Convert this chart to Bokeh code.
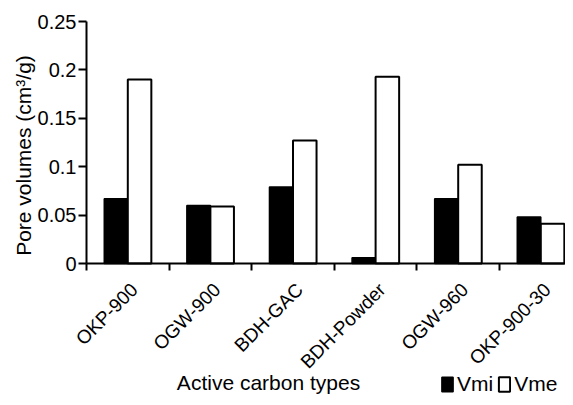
import math
from bokeh.plotting import figure
from bokeh.models import (Range1d, FixedTicker, Legend, LegendItem, Label)
from bokeh.embed import file_html
from bokeh.resources import INLINE

categories = ["OKP-900", "OGW-900", "BDH-GAC", "BDH-Powder", "OGW-960", "OKP-900-30"]
vmi = [0.067, 0.060, 0.079, 0.006, 0.067, 0.048]
vme = [0.190, 0.059, 0.127, 0.193, 0.102, 0.041]
y_ticks = [0, 0.05, 0.1, 0.15, 0.2, 0.25]
y_tick_labels = ["0", "0.05", "0.1", "0.15", "0.2", "0.25"]
series_names = ["Vmi", "Vme"]

FONT = "Liberation Sans"
W, H = 565, 397
n = len(categories)
bar_w = 0.285
label_shift = 0.58

# pixel geometry of the plotting area (whole canvas is the frame)
x0_px, cat_px = 86, 82.6          # x of category boundary 0, px per category
y0_px, ytop_px = 263, 21          # y of value 0 and of value 0.25
k = 0.25 / (y0_px - ytop_px)      # data units per px (y)

x_range = Range1d(-x0_px / cat_px, (W - x0_px) / cat_px)
y_range = Range1d(-(H - y0_px) * k, 0.25 + ytop_px * k)

p = figure(width=W, height=H, output_backend="svg", toolbar_location=None,
           x_range=x_range, y_range=y_range,
           min_border_left=0, min_border_right=0, min_border_top=0, min_border_bottom=0)
p.title.visible = False
p.outline_line_color = None
p.grid.visible = False
p.background_fill_color = "white"
p.border_fill_color = "white"

xs_mi = [i + 0.5 - bar_w / 2 for i in range(n)]
xs_me = [i + 0.5 + bar_w / 2 for i in range(n)]
r1 = p.vbar(x=xs_mi, top=vmi, width=bar_w, fill_color="black", line_color="black", line_width=1.5)
r2 = p.vbar(x=xs_me, top=vme, width=bar_w, fill_color="white", line_color="black", line_width=2)

# x axis
label_pos = [i + label_shift for i in range(n)]
xa = p.xaxis[0]
xa.fixed_location = 0
xa.bounds = (0, x_range.end)
xa.ticker = FixedTicker(ticks=label_pos, minor_ticks=list(range(n + 1)))
xa.major_label_overrides = {pos: name for pos, name in zip(label_pos, categories)}
xa.major_label_orientation = math.pi / 4
xa.major_tick_out = 0
xa.major_tick_in = 0
xa.minor_tick_out = 7
xa.minor_tick_in = 0
xa.minor_tick_line_width = 2
xa.minor_tick_line_color = "black"
xa.axis_line_width = 2
xa.axis_line_color = "black"
xa.major_label_standoff = 16
xa.major_label_text_font = FONT
xa.major_label_text_font_size = "19px"
xa.major_label_text_color = "black"

# y axis
ya = p.yaxis[0]
ya.fixed_location = 0
ya.bounds = (0, 0.25)
ya.ticker = FixedTicker(ticks=y_ticks, minor_ticks=[])
ya.major_label_overrides = {t: s for t, s in zip(y_ticks, y_tick_labels)}
ya.major_tick_out = 8
ya.major_tick_in = 0
ya.major_tick_line_width = 2
ya.axis_line_width = 2
ya.axis_line_color = "black"
ya.major_label_standoff = 2
ya.major_label_text_font = FONT
ya.major_label_text_font_size = "20px"
ya.major_label_text_color = "black"

p.add_layout(Label(x=268, y=15, x_units="screen", y_units="screen",
                   text="Active carbon types", text_align="center", text_baseline="middle",
                   text_font=FONT, text_font_size="21px", text_color="black"))
p.add_layout(Label(x=23, y=H - 155, x_units="screen", y_units="screen", angle=math.pi / 2,
                   text="Pore volumes (cm³/g)", text_align="center", text_baseline="middle",
                   text_font=FONT, text_font_size="21px", text_color="black"))

legend = Legend(items=[LegendItem(label=series_names[0], renderers=[r1]),
                       LegendItem(label=series_names[1], renderers=[r2])],
                orientation="horizontal", location=(440, 1),
                glyph_width=14, glyph_height=18, label_standoff=3, spacing=4,
                padding=0, margin=0, border_line_color=None, background_fill_alpha=0,
                label_text_font=FONT, label_text_font_size="21px", label_text_color="black")
p.add_layout(legend, "center")

open("out.html", "w").write(file_html(p, INLINE))
